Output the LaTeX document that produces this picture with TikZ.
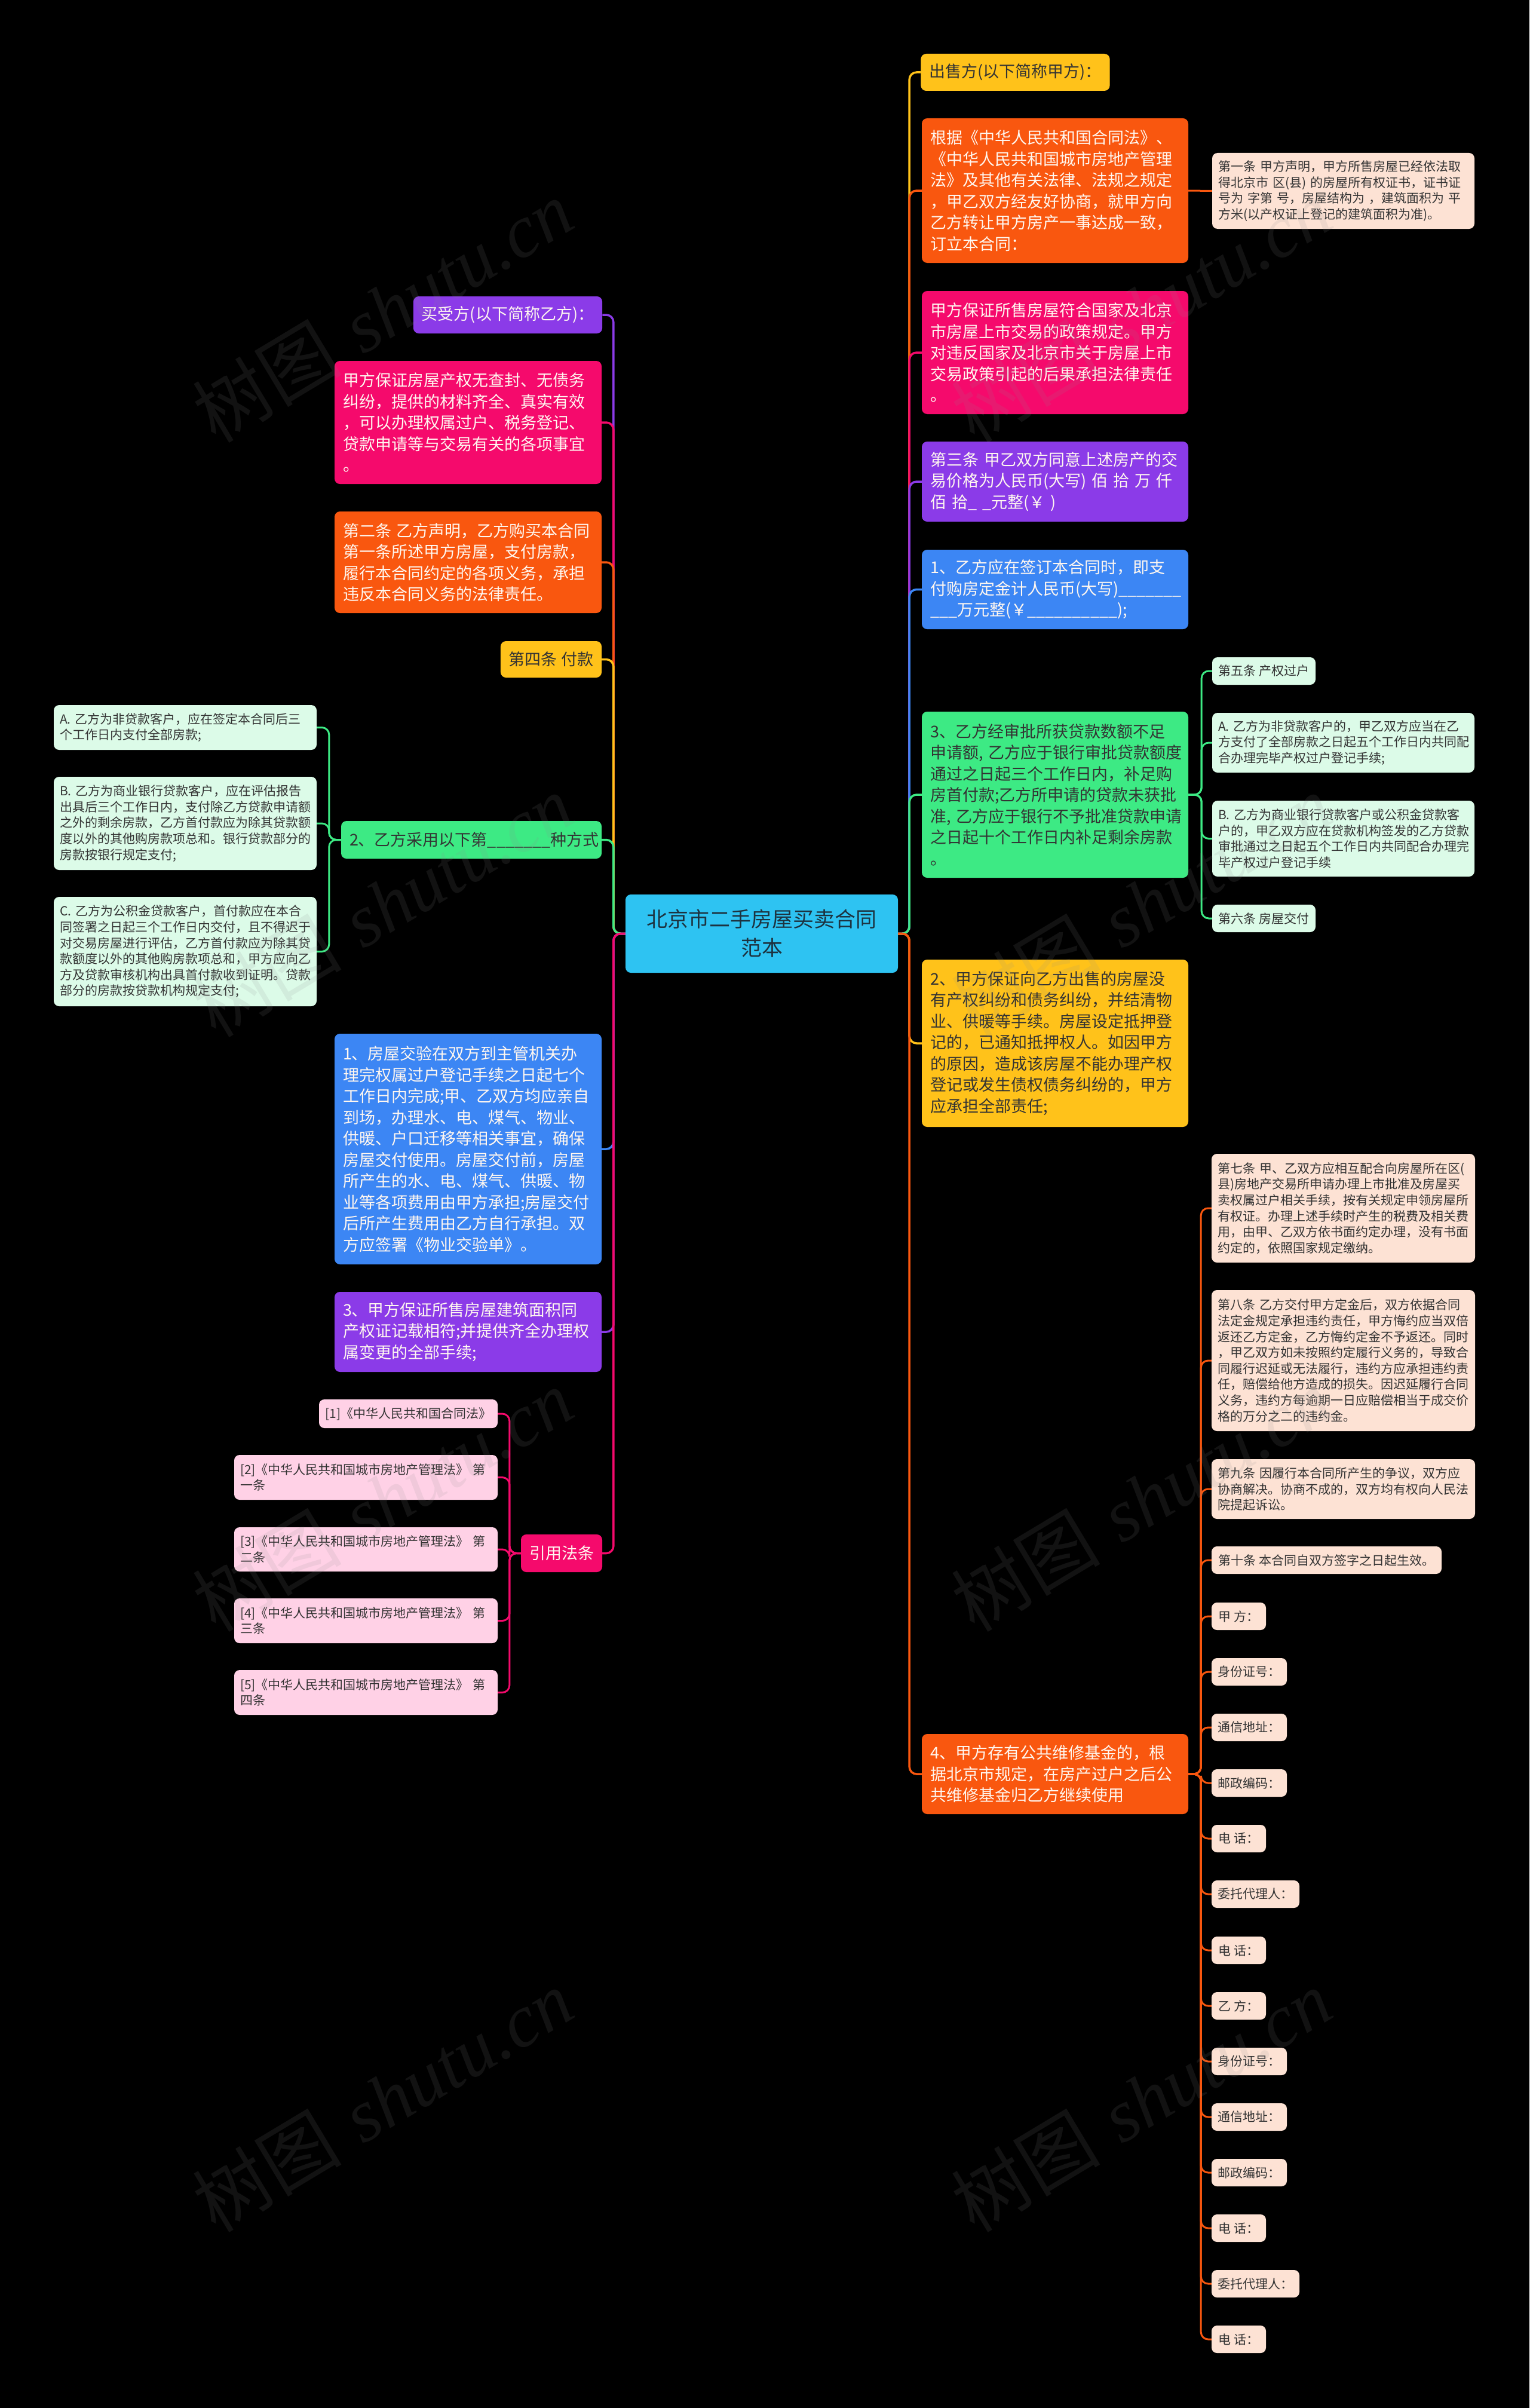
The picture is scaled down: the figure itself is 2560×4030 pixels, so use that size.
\documentclass[tikz,border=0pt]{standalone}
\usepackage{fontspec}
\newfontfamily\cjk{Noto Sans CJK SC}
\newfontfamily\wmlat{Liberation Serif}
\definecolor{cyellow}{HTML}{FFC21A}
\definecolor{corange}{HTML}{F9570F}
\definecolor{cpink}{HTML}{F50A6C}
\definecolor{cpurple}{HTML}{8B3BE8}
\definecolor{cblue}{HTML}{3C86F4}
\definecolor{cgreen}{HTML}{3DEA84}
\definecolor{ccyan}{HTML}{2EC3F2}
\definecolor{cpeach}{HTML}{FDE2D4}
\definecolor{clgreen}{HTML}{DCFBE8}
\definecolor{clpink}{HTML}{FFD1E6}
\definecolor{tdark}{HTML}{333333}
\definecolor{tlight}{HTML}{FFF7F0}
\definecolor{troot}{HTML}{1D3340}
\definecolor{wmgray}{HTML}{8C8C8C}
\tikzset{
 bx/.style={rectangle, rounded corners=9pt, draw=none, inner ysep=0pt, inner xsep=14pt, align=left},
 big/.style={bx, font=\cjk\fontsize{27}{35.5}\selectfont},
 sml/.style={bx, inner xsep=10pt, font=\cjk\fontsize{21}{26.6}\selectfont, text=tdark},
 sz/.style 2 args={minimum width=#1pt, minimum height=#2pt},
 link/.style={line width=3.5pt, rounded corners=12pt},
 sublink/.style={line width=3pt, rounded corners=12pt},
 wm/.style={rotate=31, text=wmgray, opacity=0.13, inner sep=0pt, font=\fontsize{125}{130}\selectfont}
}
\begin{document}
\begin{tikzpicture}[x=1pt,y=-1pt]
\useasboundingbox (0,0) rectangle (2560,4030);
\fill[black] (0,0) rectangle (2560,4030);

% root
\node[bx, fill=ccyan, text=troot, align=center, font=\cjk\fontsize{35}{48}\selectfont, sz={456}{131}] (root) at (1275,1562.5) {北京市二手房屋买卖合同\\范本};

% right level 1
\node[big, fill=cyellow, text=tdark, sz={313}{62}] (r1) at (1699.5,121) {出售方(以下简称甲方)：};
\node[big, fill=corange, text=tlight, sz={446}{242}, text width=418pt] (r2) at (1766,319) {根据《中华人民共和国合同法》、\\《中华人民共和国城市房地产管理\\法》及其他有关法律、法规之规定\\，甲乙双方经友好协商，就甲方向\\乙方转让甲方房产一事达成一致，\\订立本合同：};
\node[big, fill=cpink, text=tlight, sz={446}{206}, text width=418pt] (r3) at (1766,590) {甲方保证所售房屋符合国家及北京\\市房屋上市交易的政策规定。甲方\\对违反国家及北京市关于房屋上市\\交易政策引起的后果承担法律责任\\。};
\node[big, fill=cpurple, text=tlight, sz={446}{134}, text width=418pt] (r4) at (1766,806) {第三条~甲乙双方同意上述房产的交\\易价格为人民币(大写)~佰~拾~万~仟\\佰~拾\_~\_元整(￥~)};
\node[big, fill=cblue, text=tlight, sz={446}{133}, text width=418pt] (r5) at (1766,986.5) {1、乙方应在签订本合同时，即支\\付购房定金计人民币(大写)\_\_\_\_\_\_\_\\\_\_\_万元整(￥\_\_\_\_\_\_\_\_\_\_);};
\node[big, fill=cgreen, text=tdark, sz={446}{278}, text width=418pt] (r6) at (1766,1330) {3、乙方经审批所获贷款数额不足\\申请额,~乙方应于银行审批贷款额度\\通过之日起三个工作日内，补足购\\房首付款;乙方所申请的贷款未获批\\准,~乙方应于银行不予批准贷款申请\\之日起十个工作日内补足剩余房款\\。};
\node[big, fill=cyellow, text=tdark, sz={446}{280}, text width=418pt] (r7) at (1766,1746) {2、甲方保证向乙方出售的房屋没\\有产权纠纷和债务纠纷，并结清物\\业、供暖等手续。房屋设定抵押登\\记的，已通知抵押权人。如因甲方\\的原因，造成该房屋不能办理产权\\登记或发生债权债务纠纷的，甲方\\应承担全部责任;};
\node[big, fill=corange, text=tlight, sz={446}{134}, text width=418pt] (r8) at (1766,2969) {4、甲方存有公共维修基金的，根\\据北京市规定，在房产过户之后公\\共维修基金归乙方继续使用};

% right level 2
\node[sml, fill=cpeach, sz={439}{127}, text width=419pt] (c1) at (2248.5,319.5) {第一条~甲方声明，甲方所售房屋已经依法取\\得北京市~区(县)~的房屋所有权证书，证书证\\号为~字第~号，房屋结构为~，建筑面积为~平\\方米(以产权证上登记的建筑面积为准)。};

\node[sml, fill=clgreen, sz={173}{46}] (k5) at (2115.5,1123) {第五条~产权过户};
\node[sml, fill=clgreen, sz={439}{100}, text width=419pt] (ka) at (2248.5,1243) {A.~乙方为非贷款客户的，甲乙双方应当在乙\\方支付了全部房款之日起五个工作日内共同配\\合办理完毕产权过户登记手续;};
\node[sml, fill=clgreen, sz={439}{127}, text width=419pt] (kb) at (2248.5,1403.5) {B.~乙方为商业银行贷款客户或公积金贷款客\\户的，甲乙双方应在贷款机构签发的乙方贷款\\审批通过之日起五个工作日内共同配合办理完\\毕产权过户登记手续};
\node[sml, fill=clgreen, sz={173}{46}] (k6) at (2115.5,1537) {第六条~房屋交付};

\node[sml, fill=cpeach, sz={441}{182}, text width=421pt] (s7) at (2248.5,2022) {第七条~甲、乙双方应相互配合向房屋所在区(\\县)房地产交易所申请办理上市批准及房屋买\\卖权属过户相关手续，按有关规定申领房屋所\\有权证。办理上述手续时产生的税费及相关费\\用，由甲、乙双方依书面约定办理，没有书面\\约定的，依照国家规定缴纳。};
\node[sml, fill=cpeach, sz={441}{236}, text width=421pt] (s8) at (2248.5,2277) {第八条~乙方交付甲方定金后，双方依据合同\\法定金规定承担违约责任，甲方悔约应当双倍\\返还乙方定金，乙方悔约定金不予返还。同时\\，甲乙双方如未按照约定履行义务的，导致合\\同履行迟延或无法履行，违约方应承担违约责\\任，赔偿给他方造成的损失。因迟延履行合同\\义务，违约方每逾期一日应赔偿相当于成交价\\格的万分之二的违约金。};
\node[sml, fill=cpeach, sz={441}{100}, text width=421pt] (s9) at (2248.5,2492) {第九条~因履行本合同所产生的争议，双方应\\协商解决。协商不成的，双方均有权向人民法\\院提起诉讼。};
\node[sml, fill=cpeach, sz={385}{46}] (s10) at (2220.5,2611) {第十条~本合同自双方签字之日起生效。};
\node[sml, fill=cpeach, sz={91}{46}] (t1) at (2073.5,2705) {甲~方：};
\node[sml, fill=cpeach, sz={126}{46}] (t2) at (2091,2798) {身份证号：};
\node[sml, fill=cpeach, sz={126}{46}] (t3) at (2091,2891) {通信地址：};
\node[sml, fill=cpeach, sz={126}{46}] (t4) at (2091,2984) {邮政编码：};
\node[sml, fill=cpeach, sz={91}{46}] (t5) at (2073.5,3077) {电~话：};
\node[sml, fill=cpeach, sz={147}{46}] (t6) at (2101.5,3170) {委托代理人：};
\node[sml, fill=cpeach, sz={91}{46}] (t7) at (2073.5,3264) {电~话：};
\node[sml, fill=cpeach, sz={91}{46}] (t8) at (2073.5,3357) {乙~方：};
\node[sml, fill=cpeach, sz={126}{46}] (t9) at (2091,3450) {身份证号：};
\node[sml, fill=cpeach, sz={126}{46}] (t10) at (2091,3543) {通信地址：};
\node[sml, fill=cpeach, sz={126}{46}] (t11) at (2091,3636) {邮政编码：};
\node[sml, fill=cpeach, sz={91}{46}] (t12) at (2073.5,3729) {电~话：};
\node[sml, fill=cpeach, sz={147}{46}] (t13) at (2101.5,3822) {委托代理人：};
\node[sml, fill=cpeach, sz={91}{46}] (t14) at (2073.5,3915) {电~话：};

% left level 1
\node[big, fill=cpurple, text=tlight, sz={314}{62}] (l1) at (850,527) {买受方(以下简称乙方)：};
\node[big, fill=cpink, text=tlight, sz={447}{206}, text width=419pt] (l2) at (783.5,707) {甲方保证房屋产权无查封、无债务\\纠纷，提供的材料齐全、真实有效\\，可以办理权属过户、税务登记、\\贷款申请等与交易有关的各项事宜\\。};
\node[big, fill=corange, text=tlight, sz={447}{170}, text width=419pt] (l3) at (783.5,941) {第二条~乙方声明，乙方购买本合同\\第一条所述甲方房屋，支付房款，\\履行本合同约定的各项义务，承担\\违反本合同义务的法律责任。};
\node[big, fill=cyellow, text=tdark, sz={169}{61}] (l4) at (922.5,1103.5) {第四条~付款};
\node[big, fill=cgreen, text=tdark, sz={436}{63}, text width=408pt] (l5) at (789,1405.5) {2、乙方采用以下第\_\_\_\_\_\_\_种方式};
\node[big, fill=cblue, text=tlight, sz={447}{386}, text width=419pt] (l6) at (783.5,1923) {1、房屋交验在双方到主管机关办\\理完权属过户登记手续之日起七个\\工作日内完成;甲、乙双方均应亲自\\到场，办理水、电、煤气、物业、\\供暖、户口迁移等相关事宜，确保\\房屋交付使用。房屋交付前，房屋\\所产生的水、电、煤气、供暖、物\\业等各项费用由甲方承担;房屋交付\\后所产生费用由乙方自行承担。双\\方应签署《物业交验单》。};
\node[big, fill=cpurple, text=tlight, sz={447}{134}, text width=419pt] (l7) at (783.5,2229) {3、甲方保证所售房屋建筑面积同\\产权证记载相符;并提供齐全办理权\\属变更的全部手续;};
\node[big, fill=cpink, text=tlight, sz={134}{63}] (l8) at (940,2599.5) {引用法条};

% left level 2
\node[sml, fill=clgreen, sz={440}{75}, text width=420pt] (la) at (310,1217.5) {A.~乙方为非贷款客户，应在签定本合同后三\\个工作日内支付全部房款;};
\node[sml, fill=clgreen, sz={440}{156}, text width=420pt] (lb) at (310,1378) {B.~乙方为商业银行贷款客户，应在评估报告\\出具后三个工作日内，支付除乙方贷款申请额\\之外的剩余房款，乙方首付款应为除其贷款额\\度以外的其他购房款项总和。银行贷款部分的\\房款按银行规定支付;};
\node[sml, fill=clgreen, sz={440}{183}, text width=420pt] (lc) at (310,1592.5) {C.~乙方为公积金贷款客户，首付款应在本合\\同签署之日起三个工作日内交付，且不得迟于\\对交易房屋进行评估，乙方首付款应为除其贷\\款额度以外的其他购房款项总和，甲方应向乙\\方及贷款审核机构出具首付款收到证明。贷款\\部分的房款按贷款机构规定支付;};

\node[sml, fill=clpink, sz={299}{48}] (p1) at (683.5,2366) {[1]《中华人民共和国合同法》};
\node[sml, fill=clpink, sz={441}{75}, text width=421pt] (p2) at (612.5,2472.5) {[2]《中华人民共和国城市房地产管理法》~第\\一条};
\node[sml, fill=clpink, sz={441}{74}, text width=421pt] (p3) at (612.5,2593) {[3]《中华人民共和国城市房地产管理法》~第\\二条};
\node[sml, fill=clpink, sz={441}{75}, text width=421pt] (p4) at (612.5,2712.5) {[4]《中华人民共和国城市房地产管理法》~第\\三条};
\node[sml, fill=clpink, sz={441}{75}, text width=421pt] (p5) at (612.5,2832.5) {[5]《中华人民共和国城市房地产管理法》~第\\四条};

% connectors: root to level 1
\foreach \n/\c in {r1/cyellow, r2/corange, r3/cpink, r4/cpurple, r5/cblue, r6/cgreen, r7/cyellow, r8/corange}
  \draw[link, draw=\c] (root.east) -- ++(19,0) |- (\n.west);
\foreach \n/\c in {l1/cpurple, l2/cpink, l3/corange, l4/cyellow, l5/cgreen, l6/cblue, l7/cpurple, l8/cpink}
  \draw[link, draw=\c] (root.west) -- ++(-20,0) |- (\n.east);

% connectors: level 1 to level 2
\draw[sublink, draw=corange] (r2.east) -- (c1.west);
\foreach \n in {k5,ka,kb,k6}
  \draw[sublink, draw=cgreen] (r6.east) -- ++(22,0) |- (\n.west);
\foreach \n in {s7,s8,s9,s10,t1,t2,t3,t4,t5,t6,t7,t8,t9,t10,t11,t12,t13,t14}
  \draw[sublink, draw=corange] (r8.east) -- ++(21,0) |- (\n.west);
\foreach \n in {la,lb,lc}
  \draw[sublink, draw=cgreen] (l5.west) -- ++(-20,0) |- (\n.east);
\foreach \n in {p1,p2,p3,p4,p5}
  \draw[sublink, draw=cpink] (l8.west) -- ++(-19,0) |- (\n.east);

% watermarks
\foreach \i/\x/\y in {1/640/520, 2/1910/520, 3/640/1515, 4/1910/1515, 5/640/2510, 6/1910/2510, 7/640/3515, 8/1910/3515}
  \node[wm] (w\i) at (\x,\y) {{\cjk 树图}~{\wmlat\itshape shutu.cn}};
\end{tikzpicture}
\end{document}
